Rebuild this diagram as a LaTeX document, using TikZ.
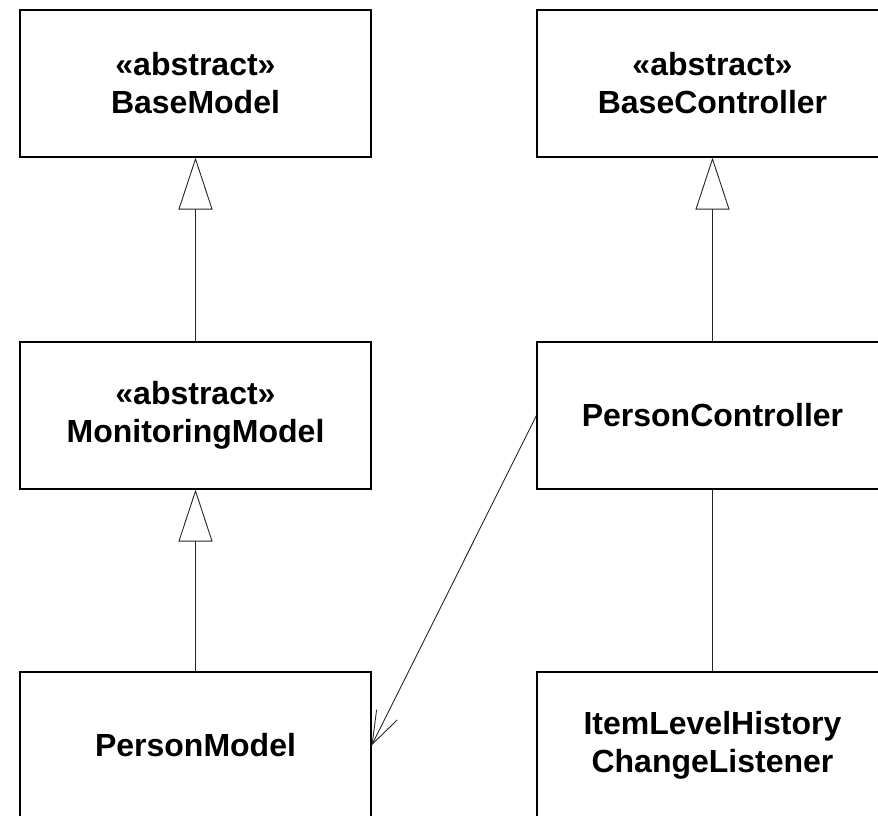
\documentclass[tikz,border=0pt]{standalone}
\usepackage{fontspec}
\setmainfont{Liberation Sans}
\usetikzlibrary{arrows.meta}
\begin{document}
\begin{tikzpicture}[x=1pt,y=-1pt,
  classbox/.style={draw=black, line width=1.1pt, minimum width=351pt, minimum height=147pt,
    inner sep=0pt, align=center, font=\fontsize{32}{38}\selectfont\bfseries},
  inherit/.style={draw=black!85, line width=0.9pt,
    -{Triangle[open, length=52pt, width=34pt, fill=white, line width=0.9pt]}},
  depend/.style={draw=black!85, line width=0.9pt,
    -{Straight Barb[length=33pt, width=23pt, line width=0.9pt]}},
  assoc/.style={draw=black!85, line width=0.9pt}]
  \useasboundingbox (0,0) rectangle (878,816);
  \clip (0,0) rectangle (878,816);

  % model hierarchy
  \node[classbox] (bm) at (195.5,83.5) {«abstract»\\BaseModel};
  \node[classbox] (mm) at (195.5,415.5) {«abstract»\\MonitoringModel};
  \node[classbox] (pm) at (195.5,745.5) {PersonModel};

  % controller side
  \node[classbox] (bc) at (712.5,83.5) {«abstract»\\BaseController};
  \node[classbox] (pc) at (712.5,415.5) {PersonController};
  \node[classbox] (il) at (712.5,745.5) {ItemLevelHistory\\ChangeListener};

  % generalizations
  \draw[inherit] (mm.north) -- (bm.south);
  \draw[inherit] (pm.north) -- (mm.south);
  \draw[inherit] (pc.north) -- (bc.south);

  % association and dependency
  \draw[assoc] (il.north) -- (pc.south);
  \draw[depend] (pc.west) -- (pm.east);
\end{tikzpicture}
\end{document}
